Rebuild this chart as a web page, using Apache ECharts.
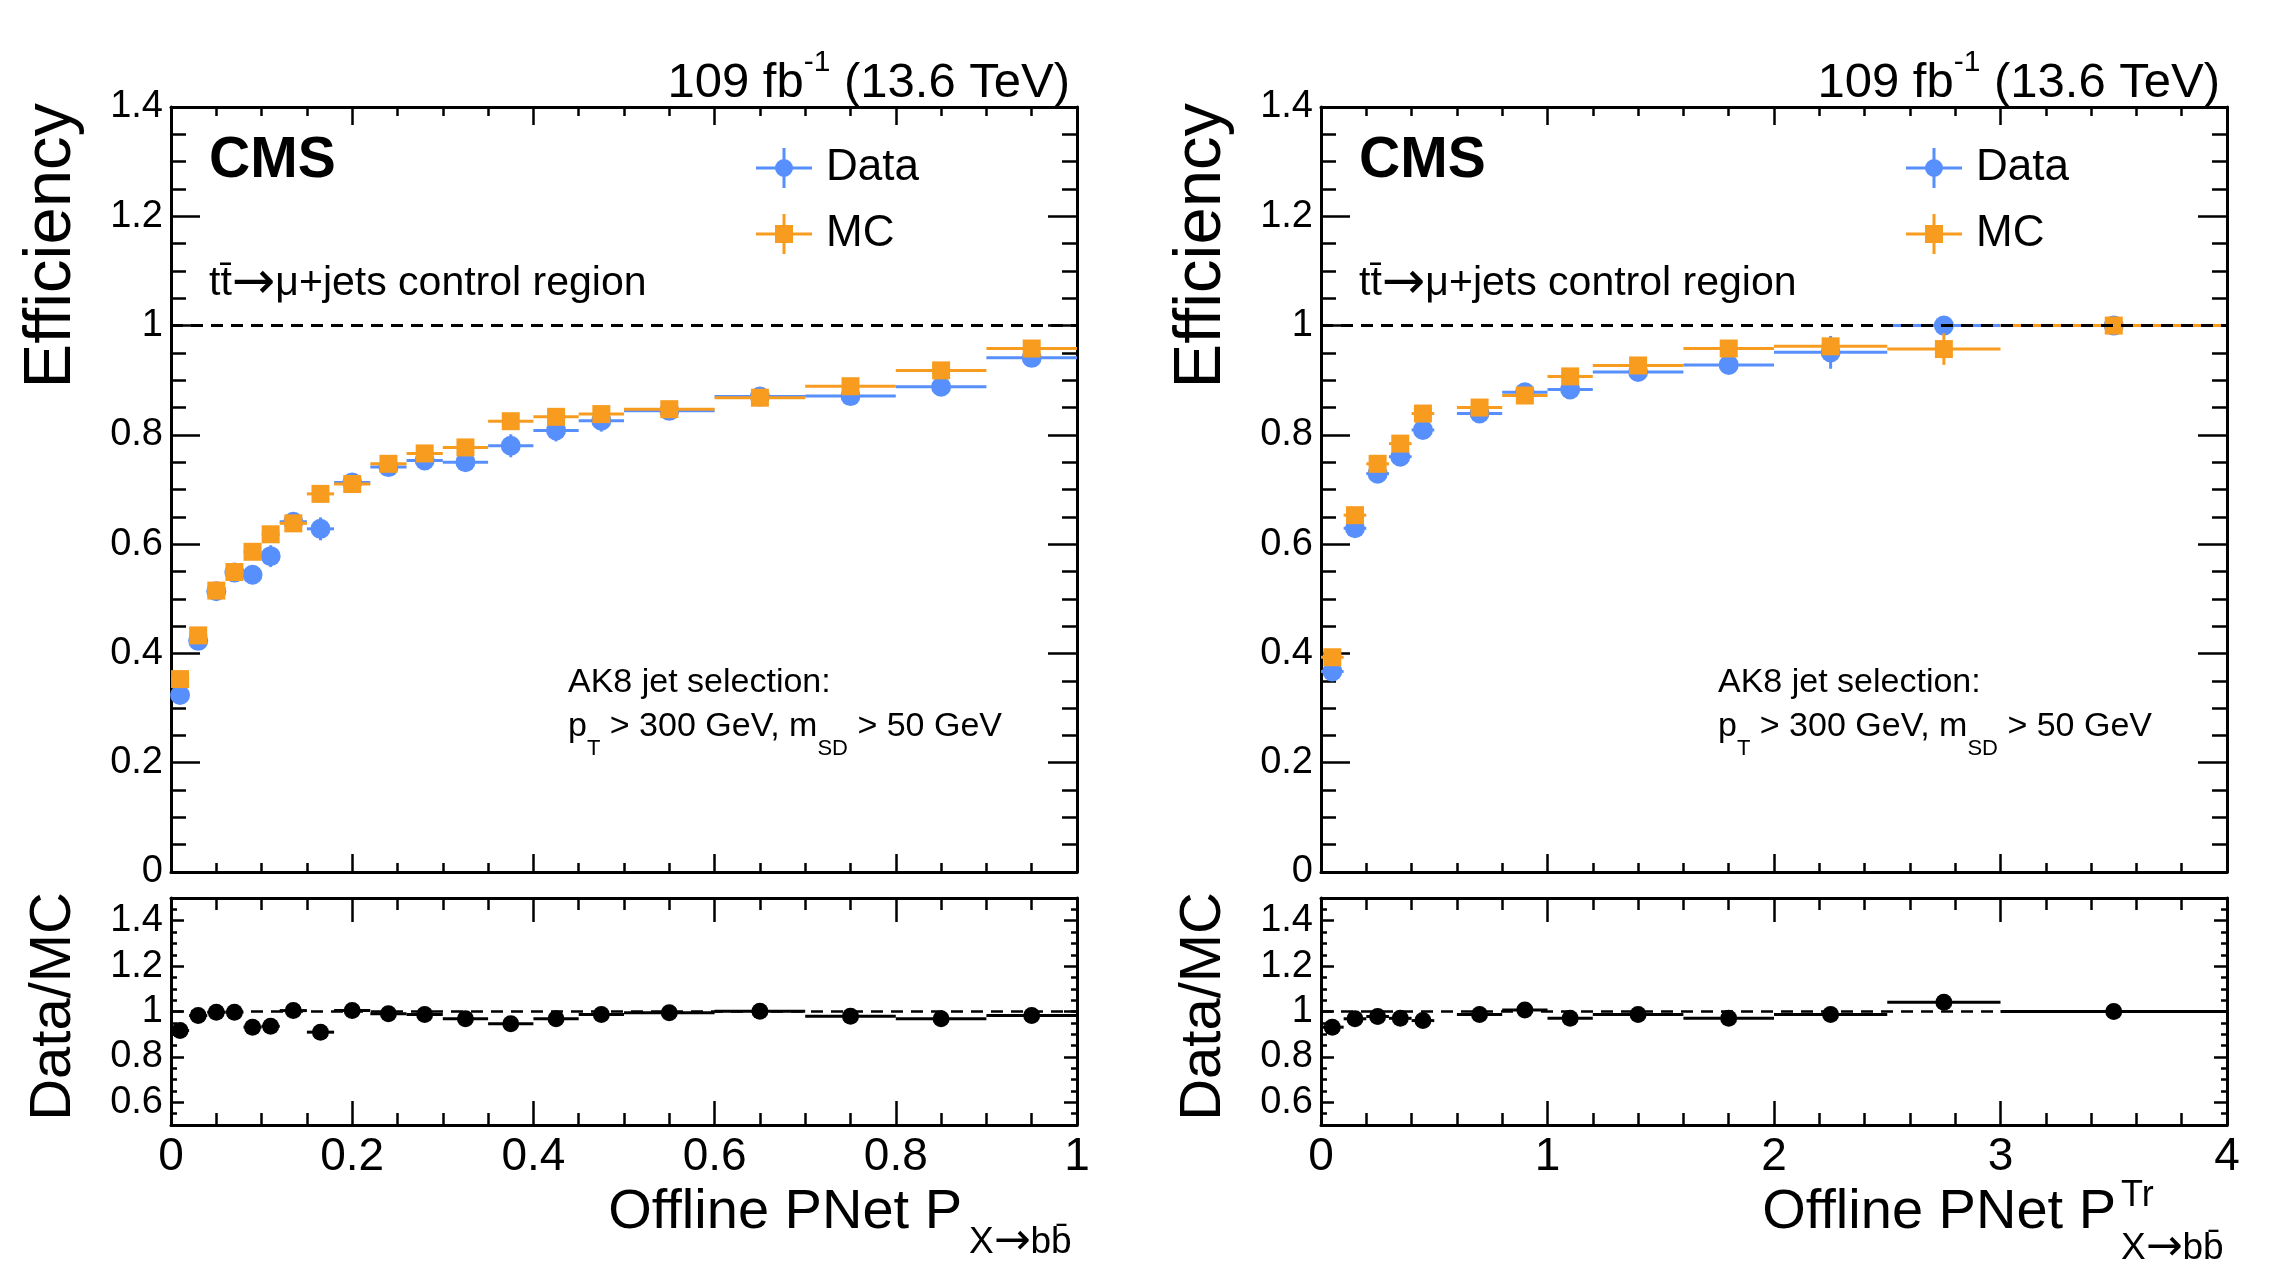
<!DOCTYPE html>
<html>
<head>
<meta charset="utf-8">
<script src="https://cdn.jsdelivr.net/npm/echarts@6/dist/echarts.min.js"></script>
<style>
html, body { margin: 0; padding: 0; background: #fff; }
#chart { width: 2284px; height: 1278px; }
</style>
</head>
<body>
<div id="chart"></div>
<script>
// left panel: offline PNet P(X->bb)
var leftX = [0.01, 0.03, 0.05, 0.07, 0.09, 0.11, 0.135, 0.165, 0.2, 0.24, 0.28, 0.325, 0.375, 0.425, 0.475, 0.55, 0.65, 0.75, 0.85, 0.95];
var leftXErr = [0.01, 0.01, 0.01, 0.01, 0.01, 0.01, 0.015, 0.015, 0.02, 0.02, 0.02, 0.025, 0.025, 0.025, 0.025, 0.05, 0.05, 0.05, 0.05, 0.05];
var leftData = [0.324, 0.423, 0.514, 0.548, 0.544, 0.578, 0.641, 0.628, 0.713, 0.741, 0.753, 0.750, 0.780, 0.808, 0.826, 0.844, 0.870, 0.871, 0.888, 0.941];
var leftDataErr = [0.012, 0.012, 0.012, 0.012, 0.012, 0.02, 0.015, 0.021, 0.012, 0.015, 0.015, 0.015, 0.021, 0.02, 0.02, 0.012, 0.012, 0.012, 0.012, 0.01];
var leftMC = [0.353, 0.433, 0.515, 0.549, 0.586, 0.618, 0.638, 0.692, 0.710, 0.747, 0.766, 0.777, 0.825, 0.833, 0.838, 0.847, 0.868, 0.889, 0.918, 0.958];
var leftMCErr = [0.004, 0.004, 0.004, 0.004, 0.004, 0.004, 0.004, 0.004, 0.004, 0.004, 0.004, 0.004, 0.004, 0.004, 0.004, 0.004, 0.004, 0.004, 0.004, 0.004];
var leftRatio = [0.916, 0.982, 0.997, 0.997, 0.931, 0.935, 1.004, 0.909, 1.004, 0.99, 0.987, 0.968, 0.946, 0.968, 0.987, 0.994, 1.001, 0.979, 0.968, 0.982];

// right panel: offline PNet P^Tr(X->bb)
var rightX = [0.05, 0.15, 0.25, 0.35, 0.45, 0.7, 0.9, 1.1, 1.4, 1.8, 2.25, 2.75, 3.5];
var rightXErr = [0.05, 0.05, 0.05, 0.05, 0.05, 0.1, 0.1, 0.1, 0.2, 0.2, 0.25, 0.25, 0.5];
var rightData = [0.367, 0.629, 0.729, 0.760, 0.809, 0.839, 0.878, 0.883, 0.915, 0.928, 0.951, 1.0, 1.0];
var rightDataErr = [0.01, 0.01, 0.01, 0.01, 0.01, 0.01, 0.012, 0.01, 0.01, 0.012, 0.03, 0.016, 0.005];
var rightMC = [0.393, 0.653, 0.747, 0.784, 0.839, 0.850, 0.872, 0.907, 0.927, 0.958, 0.962, 0.957, 1.0];
var rightMCErr = [0.005, 0.005, 0.005, 0.005, 0.005, 0.005, 0.005, 0.005, 0.005, 0.005, 0.008, 0.029, 0.005];
var rightRatio = [0.931, 0.968, 0.978, 0.970, 0.960, 0.987, 1.007, 0.970, 0.987, 0.970, 0.987, 1.041, 1.0];

// ratio panel ticks
var ratioMajor = [0.6, 0.8, 1, 1.2, 1.4];
var ratioMinor = [0.55, 0.65, 0.7, 0.75, 0.85, 0.9, 0.95, 1.05, 1.1, 1.15, 1.25, 1.3, 1.35, 1.45];

var FONT = "'Liberation Sans', Arial, Helvetica, sans-serif";
var ARROWFONT = "'DejaVu Sans', sans-serif";
var BLUE = "#5790fc";
var ORANGE = "#f89c20";

var chart = echarts.init(document.getElementById("chart"), null, { renderer: "canvas" });

var grids = [
  { left: 171, top: 107, width: 906, height: 765 },
  { left: 171, top: 898, width: 906, height: 227 },
  { left: 1321, top: 107, width: 906, height: 765 },
  { left: 1321, top: 898, width: 906, height: 227 }
];
grids.forEach(function (g) { g.outerBoundsMode = "none"; g.containLabel = false; });

var xAxes = [];
var yAxes = [];

function xAxis(grid, pos, max, interval, minorSplit, majLen, minLen, showLabel) {
  xAxes.push({
    type: "value", gridIndex: grid, position: pos, min: 0, max: max, interval: interval,
    axisLine: { show: true, onZero: false, lineStyle: { color: "#000", width: 3 } },
    axisTick: { show: true, inside: true, length: majLen, lineStyle: { color: "#000", width: 2.5 } },
    minorTick: { show: true, splitNumber: minorSplit, length: minLen, lineStyle: { color: "#000", width: 2.5 } },
    axisLabel: { show: showLabel, fontSize: 46, color: "#000", fontFamily: FONT, margin: 9 },
    splitLine: { show: false }, minorSplitLine: { show: false }
  });
  return xAxes.length - 1;
}

function yMain(grid, pos) {
  yAxes.push({
    type: "value", gridIndex: grid, position: pos, min: 0, max: 1.4, interval: 0.2,
    axisLine: { show: true, onZero: false, lineStyle: { color: "#000", width: 3 } },
    axisTick: { show: true, inside: true, length: 29, lineStyle: { color: "#000", width: 2.5 } },
    minorTick: { show: true, splitNumber: 4, length: 15, lineStyle: { color: "#000", width: 2.5 } },
    axisLabel: { show: pos === "left", fontSize: 38, color: "#000", fontFamily: FONT, margin: 8 },
    splitLine: { show: false }, minorSplitLine: { show: false }
  });
  return yAxes.length - 1;
}

function yRatio(grid, pos, minor) {
  var vals = minor ? ratioMinor : ratioMajor;
  yAxes.push({
    type: "value", gridIndex: grid, position: pos, min: 0.5, max: 1.5,
    axisLine: { show: !minor, onZero: false, lineStyle: { color: "#000", width: 3 } },
    axisTick: { show: true, inside: true, length: minor ? 6 : 13, customValues: vals, lineStyle: { color: "#000", width: 2.5 } },
    axisLabel: { show: !minor && pos === "left", customValues: vals, fontSize: 38, color: "#000", fontFamily: FONT, margin: 8 },
    splitLine: { show: false }
  });
  return yAxes.length - 1;
}

function errData(xs, xe, ys, ye) {
  return xs.map(function (x, i) { return [x, ys[i], xe[i], ye ? ye[i] : 0]; });
}
function ptData(xs, ys) {
  return xs.map(function (x, i) { return [x, ys[i]]; });
}

function errSeries(xi, yi, data, color, z) {
  return {
    type: "custom", xAxisIndex: xi, yAxisIndex: yi, data: data, z: z, silent: true, clip: true,
    encode: { x: 0, y: 1 },
    renderItem: function (params, api) {
      var x = api.value(0), y = api.value(1), xe = api.value(2), ye = api.value(3);
      var a = api.coord([x - xe, y]), b = api.coord([x + xe, y]);
      var st = { stroke: color, lineWidth: 3 };
      var kids = [{ type: "line", shape: { x1: a[0], y1: a[1], x2: b[0], y2: b[1] }, style: st }];
      if (ye > 0) {
        var c = api.coord([x, y - ye]), d = api.coord([x, y + ye]);
        kids.push({ type: "line", shape: { x1: c[0], y1: c[1], x2: d[0], y2: d[1] }, style: st });
      }
      return { type: "group", children: kids };
    }
  };
}

function dashSeries(xi, yi, max, width, z) {
  return {
    type: "line", xAxisIndex: xi, yAxisIndex: yi, data: [[0, 1], [max, 1]], symbol: "none", z: z, silent: true,
    lineStyle: { color: "#000", width: width, type: [12, 8] }
  };
}

var series = [];

function panel(mainGrid, ratioGrid, xmax, interval, minorSplit, xs, xe, data, dataErr, mc, mcErr, ratio) {
  var xm = xAxis(mainGrid, "bottom", xmax, interval, minorSplit, 18, 9, false);
  xAxis(mainGrid, "top", xmax, interval, minorSplit, 18, 9, false);
  var ym = yMain(mainGrid, "left");
  yMain(mainGrid, "right");
  var xr = xAxis(ratioGrid, "bottom", xmax, interval, minorSplit, 24, 12, true);
  xAxis(ratioGrid, "top", xmax, interval, minorSplit, 24, 12, false);
  var yr = yRatio(ratioGrid, "left", false);
  yRatio(ratioGrid, "left", true);
  yRatio(ratioGrid, "right", false);
  yRatio(ratioGrid, "right", true);

  series.push(errSeries(xm, ym, errData(xs, xe, data, dataErr), BLUE, 2));
  series.push({ type: "scatter", name: "Data", xAxisIndex: xm, yAxisIndex: ym, data: ptData(xs, data),
    symbol: "circle", symbolSize: 20, itemStyle: { color: BLUE, opacity: 1 }, z: 3, silent: true });
  series.push(errSeries(xm, ym, errData(xs, xe, mc, mcErr), ORANGE, 4));
  series.push({ type: "scatter", name: "MC", xAxisIndex: xm, yAxisIndex: ym, data: ptData(xs, mc),
    symbol: "rect", symbolSize: 18, itemStyle: { color: ORANGE, opacity: 1 }, z: 5, silent: true });
  series.push(dashSeries(xm, ym, xmax, 3, 6));

  series.push(dashSeries(xr, yr, xmax, 2.5, 1));
  series.push(errSeries(xr, yr, errData(xs, xe, ratio, null), "#000", 2));
  series.push({ type: "scatter", xAxisIndex: xr, yAxisIndex: yr, data: ptData(xs, ratio),
    symbol: "circle", symbolSize: 17, itemStyle: { color: "#000", opacity: 1 }, z: 3, silent: true });
}

panel(0, 1, 1, 0.2, 4, leftX, leftXErr, leftData, leftDataErr, leftMC, leftMCErr, leftRatio);
panel(2, 3, 4, 1, 5, rightX, rightXErr, rightData, rightDataErr, rightMC, rightMCErr, rightRatio);

var dataIcon = "path://M0,18.5 h56 v3 h-56 z M26.5,0 h3 v40 h-3 z M19,20 a9,9 0 1,1 18,0 a9,9 0 1,1 -18,0 z";
var mcIcon = "path://M0,18.5 h56 v3 h-56 z M26.5,0 h3 v40 h-3 z M19,11 h18 v18 h-18 z";

function legend(left) {
  return {
    orient: "vertical", left: left, top: 146, itemWidth: 74, itemHeight: 40, itemGap: 22,
    selectedMode: false, padding: 0,
    textStyle: { fontSize: 44, color: "#000", fontFamily: FONT, lineHeight: 44 },
    data: [{ name: "Data", icon: dataIcon }, { name: "MC", icon: mcIcon }]
  };
}

function text(x, y, str, size, extra) {
  var st = { text: str, fill: "#000", fontSize: size, fontFamily: FONT,
    align: "left", textAlign: "left", verticalAlign: "middle", textVerticalAlign: "middle" };
  for (var k in extra) st[k] = extra[k];
  return { type: "text", x: x, y: y, style: st, z: 100, silent: true };
}

function tok(size, family, valign, lh) {
  return { fontSize: size, fontFamily: family, fill: "#000", color: "#000", lineHeight: lh, verticalAlign: valign };
}

var graphics = [];
[0, 1150].forEach(function (dx) {
  // lumi label
  graphics.push(text(1070 + dx, 78, "{n|109 fb}{s|-1}{n| (13.6 TeV)}", 49, {
    align: "right", textAlign: "right",
    rich: { n: tok(49, FONT, "bottom", 60), s: tok(30, FONT, "top", 60) }
  }));
  graphics.push(text(209 + dx, 161, "CMS", 57, { fontWeight: "bold" }));
  graphics.push(text(209 + dx, 284, "{n|t\u0074\u0304}{a|\u2192}{n|\u03bc+jets control region}", 41, {
    rich: { n: tok(41, FONT, "middle", 56), a: tok(52, ARROWFONT, "middle", 56) }
  }));
  graphics.push(text(568 + dx, 683, "AK8 jet selection:", 34));
  graphics.push(text(568 + dx, 735, "{n|p}{b|T}{n| > 300 GeV, m}{b|SD}{n| > 50 GeV}", 34, {
    rich: { n: tok(34, FONT, "top", 50), b: tok(22, FONT, "bottom", 50) }
  }));
  var eff = text(52 + dx, 103, "Efficiency", 67, { align: "right", textAlign: "right" });
  eff.rotation = Math.PI / 2;
  graphics.push(eff);
  var rat = text(54 + dx, 892, "Data/MC", 58, { align: "right", textAlign: "right" });
  rat.rotation = Math.PI / 2;
  graphics.push(rat);
});

// x axis titles
var subRich = { n: tok(37, FONT, "middle", 46), a: tok(44, ARROWFONT, "middle", 46) };
graphics.push(text(962, 1213, "Offline PNet P", 56, { align: "right", textAlign: "right" }));
graphics.push(text(969, 1243, "{n|X}{a|\u2192}{n|bb\u0304}", 37, { rich: subRich }));
graphics.push(text(2116, 1213, "Offline PNet P", 56, { align: "right", textAlign: "right" }));
graphics.push(text(2121, 1196, "Tr", 36));
graphics.push(text(2121, 1249, "{n|X}{a|\u2192}{n|bb\u0304}", 37, { rich: subRich }));

chart.setOption({
  animation: false,
  backgroundColor: "#fff",
  grid: grids,
  xAxis: xAxes,
  yAxis: yAxes,
  legend: [legend(756), legend(1906)],
  series: series,
  graphic: { elements: graphics }
});
</script>
</body>
</html>
